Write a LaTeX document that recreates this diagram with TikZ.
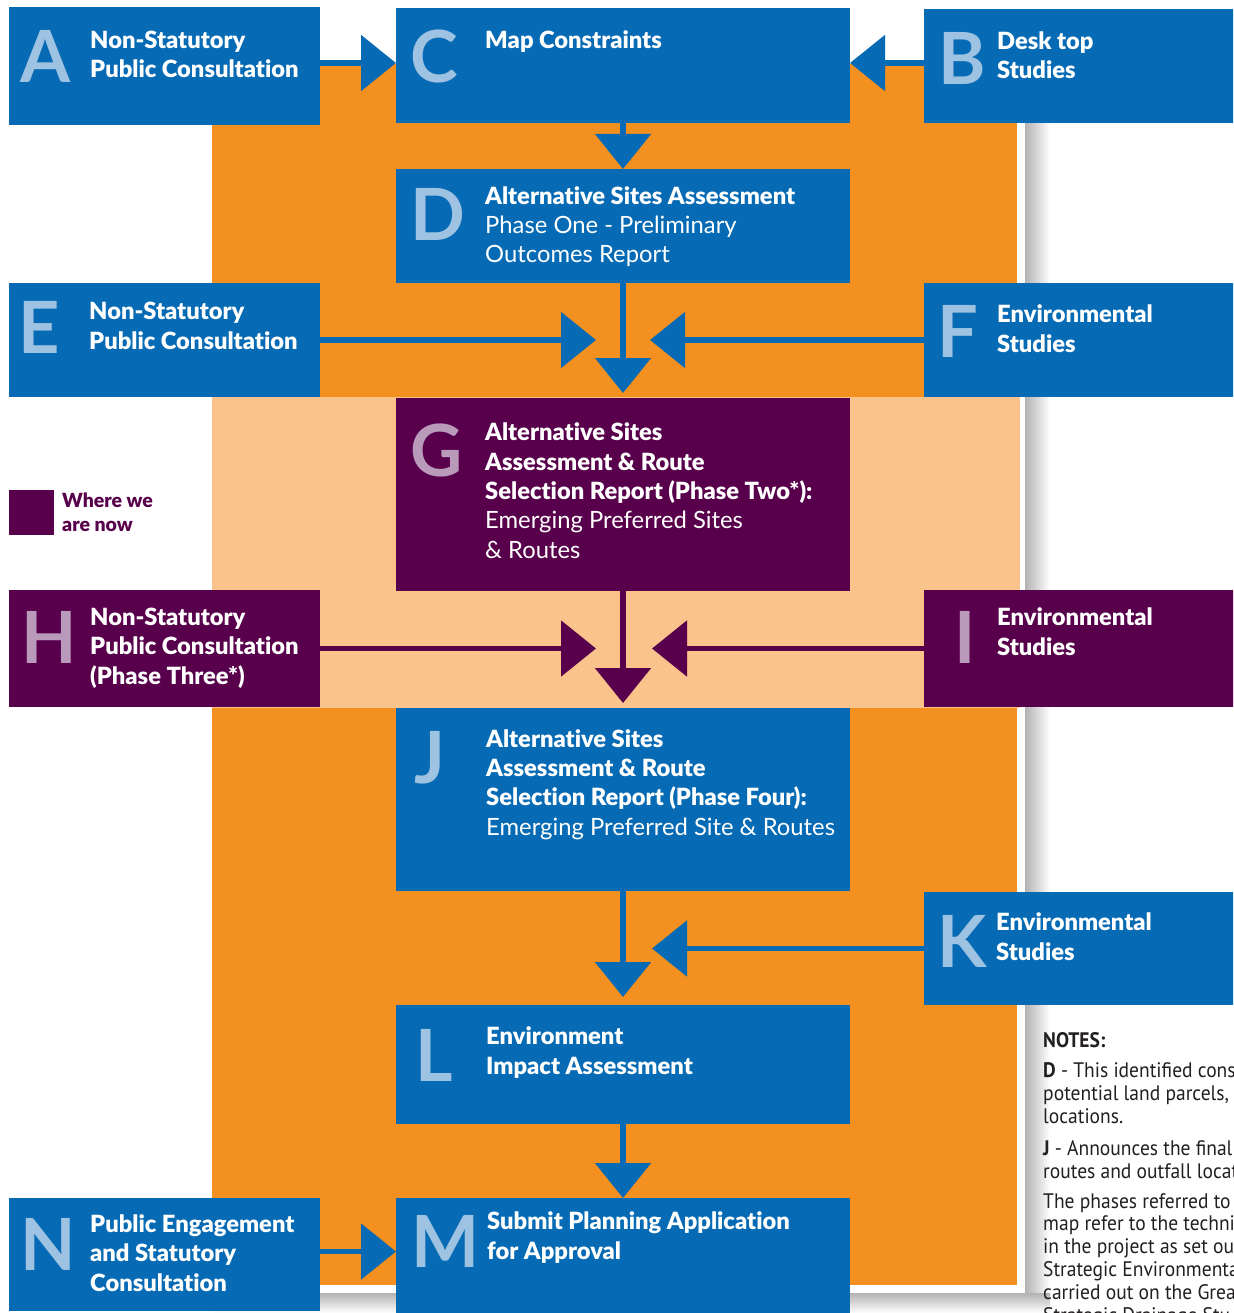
\documentclass[tikz,border=0pt]{standalone}
\usepackage{fontspec}
\setmainfont{Lato}
\newfontfamily\heavyfont[Ligatures=NoCommon]{Lato Black}
\newfontfamily\notesfont[FakeStretch=0.93]{PT Sans}
\usetikzlibrary{arrows.meta,calc}
\definecolor{cblue}{HTML}{066BB4}
\definecolor{lblue}{HTML}{9EC3E2}
\definecolor{corange}{HTML}{F39020}
\definecolor{lorange}{HTML}{FAC38B}
\definecolor{cpurple}{HTML}{58004B}
\definecolor{lpurple}{HTML}{BA9ABA}
\definecolor{notegray}{HTML}{231F20}
\begin{document}
\begin{tikzpicture}[x=1pt,y=-1pt,
  box/.style={fill=#1,draw=none,inner sep=0pt,outer sep=0pt,anchor=north west,rectangle},
  bigletter/.style={font=\fontsize{72}{72}\selectfont\bfseries,text=#1,anchor=base west,inner sep=0pt},
  title/.style={font=\heavyfont\fontsize{23.7}{29.3}\selectfont,text=white,anchor=base west,inner sep=0pt,align=left},
  conn/.style={draw=#1,line width=5.5pt,-{Triangle[length=35pt,width=55pt]}},
  notes/.style={font=\notesfont\fontsize{21}{22.8}\selectfont,text=notegray,anchor=base west,inner sep=0pt,align=left}
]
\useasboundingbox (0,0) rectangle (1233,1313);
\clip (0,0) rectangle (1233,1313);
\fill[white] (0,0) rectangle (1233,1313);
% shadows
\shade[left color=black!30,right color=white] (1025,60) rectangle (1050,1300);
\shade[top color=black!30,bottom color=white] (215,1293) rectangle (1050,1313);
\fill[white] (205,55) rectangle (1025,1293);
% backgrounds
\fill[corange] (212,64) rectangle (1017,1285);
\fill[lorange] (212,397) rectangle (1020,708);
% boxes
\node[box=cblue,minimum width=311pt,minimum height=118pt] (A) at (9,7) {};
\node[box=cblue,minimum width=454pt,minimum height=115pt] (C) at (396,8) {};
\node[box=cblue,minimum width=316pt,minimum height=114pt] (B) at (924,9) {};
\node[box=cblue,minimum width=454pt,minimum height=114pt] (D) at (396,169) {};
\node[box=cblue,minimum width=311pt,minimum height=114pt] (E) at (9,283) {};
\node[box=cblue,minimum width=316pt,minimum height=114pt] (F) at (924,283) {};
\node[box=cpurple,minimum width=454pt,minimum height=193pt] (G) at (396,398) {};
\node[box=cpurple,minimum width=311pt,minimum height=117pt] (H) at (9,590) {};
\node[box=cpurple,minimum width=316pt,minimum height=117pt] (I) at (924,590) {};
\node[box=cblue,minimum width=454pt,minimum height=183pt] (J) at (396,708) {};
\node[box=cblue,minimum width=316pt,minimum height=113pt] (K) at (924,892) {};
\node[box=cblue,minimum width=454pt,minimum height=119pt] (L) at (396,1005) {};
\node[box=cblue,minimum width=454pt,minimum height=120pt] (M) at (396,1198) {};
\node[box=cblue,minimum width=311pt,minimum height=113pt] (N) at (9,1198) {};
\node[box=cpurple,minimum width=45pt,minimum height=45pt] (legend) at (9,490) {};
% connectors
\draw[conn=cblue] ([yshift=3pt]A.east) -- ([yshift=3pt]A.east -| C.west);
\draw[conn=cblue] ([yshift=3pt]B.west) -- ([yshift=3pt]B.west -| C.east);
\draw[conn=cblue] (C.south) -- (D.north);
\draw[conn=cblue] (D.south) -- ([yshift=5pt]G.north);
\draw[conn=cblue] (E.east) -- ($(E.east -| D.south)+(-27,0)$);
\draw[conn=cblue] (F.west) -- ($(F.west -| D.south)+(27,0)$);
\draw[conn=cpurple] (G.south) -- ([yshift=5pt]J.north);
\draw[conn=cpurple] (H.east) -- ($(H.east -| G.south)+(-27,0)$);
\draw[conn=cpurple] (I.west) -- ($(I.west -| G.south)+(29,0)$);
\draw[conn=cblue] (J.south) -- ([yshift=8pt]L.north);
\draw[conn=cblue] (K.west) -- ($(K.west -| J.south)+(29,0)$);
\draw[conn=cblue] (L.south) -- (M.north);
\draw[conn=cblue] ([yshift=3pt]N.east) -- ([yshift=3pt]N.east -| M.west);
% big letters
\node[bigletter=lblue] (lA) at (20,83) {A};
\node[bigletter=lblue] (lC) at (410,83) {C};
\node[bigletter=lblue] (lB) at (938,85) {B};
\node[bigletter=lblue] (lD) at (410,241) {D};
\node[bigletter=lblue] (lE) at (18,353) {E};
\node[bigletter=lblue] (lF) at (937,357) {F};
\node[bigletter=lpurple] (lG) at (410,476) {G};
\node[bigletter=lpurple] (lH) at (21,663) {H};
\node[bigletter=lpurple] (lI) at (954,663) {I};
\node[bigletter=lblue] (lJ) at (414,783) {J};
\node[bigletter=lblue] (lK) at (937,967) {K};
\node[bigletter=lblue] (lL) at (415,1081) {L};
\node[bigletter=lblue] (lM) at (411,1267) {M};
\node[bigletter=lblue] (lN) at (20,1270) {N};
% titles (anchor is the baseline of the last line)
\node[title] (tA) at (90,78) {Non-Statutory\\Public Consultation};
\node[title] (tC) at (485,49) {Map Constraints};
\node[title] (tB) at (997,79) {Desk top\\Studies};
\node[title] (tD) at (485,263) {Alternative Sites Assessment\\{\normalfont\fontsize{23.8}{29.3}\selectfont Phase One - Preliminary}\\{\normalfont\fontsize{23.8}{29.3}\selectfont Outcomes Report}};
\node[title] (tE) at (89,349) {Non-Statutory\\Public Consultation};
\node[title] (tF) at (997,352) {Environmental\\Studies};
\node[title] (tG) at (485,558) {Alternative Sites\\Assessment \& Route\\Selection Report (Phase Two*):\\{\normalfont\fontsize{23.8}{29.3}\selectfont Emerging Preferred Sites}\\{\normalfont\fontsize{23.8}{29.3}\selectfont \& Routes}};
\node[title] (tH) at (90,684) {Non-Statutory\\Public Consultation\\(Phase Three*)};
\node[title] (tI) at (997,655) {Environmental\\Studies};
\node[title] (tJ) at (486,835) {Alternative Sites\\Assessment \& Route\\Selection Report (Phase Four):\\{\normalfont\fontsize{23.8}{29.3}\selectfont Emerging Preferred Site \& Routes}};
\node[title] (tK) at (996,960) {Environmental\\Studies};
\node[title] (tL) at (486,1074) {Environment\\Impact Assessment};
\node[title] (tM) at (487,1259) {Submit Planning Application\\for Approval};
\node[title] (tN) at (90,1291) {Public Engagement\\and Statutory\\Consultation};
% legend
\node[anchor=base west,inner sep=0pt,align=left,text=cpurple,font=\heavyfont\fontsize{19.5}{24}\selectfont] (tlegend) at (62,531) {Where we\\are now};
% notes
\node[notes,font=\notesfont\fontsize{21}{22.8}\selectfont\bfseries] (nh) at (1043,1047) {NOTES:};
\node[notes] (n1) at (1043,1123) {\textbf{D} - This identified cons\\potential land parcels,\\locations.};
\node[notes] (n2) at (1043,1178) {\textbf{J} - Announces the final\\routes and outfall locat};
\node[notes] (n3) at (1043,1322) {The phases referred to\\map refer to the techni\\in the project as set ou\\Strategic Environmenta\\carried out on the Grea\\Strategic Drainage Stu};
\end{tikzpicture}
\end{document}
